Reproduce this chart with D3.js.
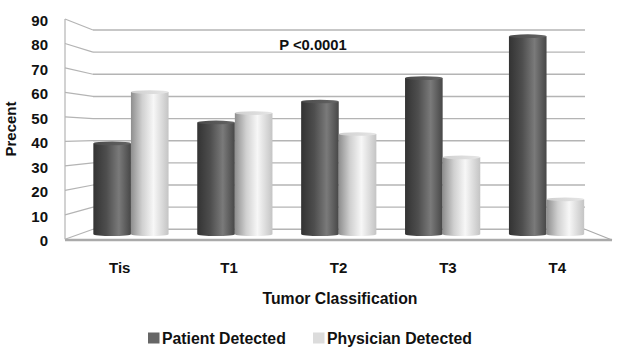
<!DOCTYPE html>
<html>
<head>
<meta charset="utf-8">
<script src="https://cdn.jsdelivr.net/npm/d3@7"></script>
<style>
body { margin: 0; background: #fff; }
text { font-family: Arial, "Liberation Sans", sans-serif; font-weight: bold; fill: #111; }
</style>
</head>
<body>
<div id="chart"></div>
<script>
var categories = ["Tis", "T1", "T2", "T3", "T4"];
var series = ["Patient Detected", "Physician Detected"];
var patientDetected = [39, 48, 57, 67, 85];
var physicianDetected = [61, 52, 43, 33, 15];
var yTicks = [0, 10, 20, 30, 40, 50, 60, 70, 80, 90];

var width = 620, height = 353;

var svg = d3.select("#chart").append("svg")
	.attr("width", width)
	.attr("height", height);

// depth t: 0 = back wall, 1 = front edge
function xScale(t) {
	return d3.scaleBand()
		.domain(categories)
		.range([93 - 28 * t, 585 + 27 * t]);
}
function yScale(t) {
	return d3.scaleLinear()
		.domain([0, 90])
		.range([229.3 + 10 * t, 30 - 11 * t]);
}

var yBack = yScale(0), yFront = yScale(1), yMid = yScale(0.5);
var xBack = xScale(0), xFront = xScale(1);

// gradients
var defs = svg.append("defs");
function grad(id, stops) {
	var g = defs.append("linearGradient").attr("id", id)
		.attr("x1", "0%").attr("x2", "100%").attr("y1", "0%").attr("y2", "0%");
	stops.forEach(function(s) {
		g.append("stop").attr("offset", s[0]).attr("stop-color", s[1]);
	});
}
grad("gDark", [["0%", "#333"], ["35%", "#4e4e4e"], ["68%", "#7a7a7a"], ["100%", "#474747"]]);
grad("gLight", [["0%", "#8e8e8e"], ["30%", "#d0d0d0"], ["60%", "#f7f7f7"], ["100%", "#c4c4c4"]]);
grad("gDarkTop", [["0%", "#4a4a4a"], ["100%", "#666"]]);
grad("gLightTop", [["0%", "#cfcfcf"], ["100%", "#e6e6e6"]]);

var gridColor = "#b4b4b4";

// back wall gridlines
svg.append("g").selectAll("line")
	.data(yTicks)
	.enter().append("line")
		.attr("x1", xBack.range()[0])
		.attr("x2", xBack.range()[1])
		.attr("y1", function(d) { return yBack(d); })
		.attr("y2", function(d) { return yBack(d); })
		.attr("stroke", gridColor)
		.attr("stroke-width", 1.4);

// left wall lines
svg.append("g").selectAll("line")
	.data(yTicks)
	.enter().append("line")
		.attr("x1", xFront.range()[0])
		.attr("x2", xBack.range()[0])
		.attr("y1", function(d) { return yFront(d); })
		.attr("y2", function(d) { return yBack(d); })
		.attr("stroke", gridColor)
		.attr("stroke-width", 1.2);

// left front vertical edge
svg.append("line")
	.attr("x1", xFront.range()[0]).attr("x2", xFront.range()[0])
	.attr("y1", yFront(90)).attr("y2", yFront(0))
	.attr("stroke", gridColor).attr("stroke-width", 1.2);

// floor: front edge and right edge
svg.append("line")
	.attr("x1", xFront.range()[0]).attr("x2", xFront.range()[1])
	.attr("y1", yFront(0) + 0.7).attr("y2", yFront(0) + 0.7)
	.attr("stroke", "#aaa").attr("stroke-width", 2.4);
svg.append("line")
	.attr("x1", xBack.range()[1]).attr("x2", xFront.range()[1])
	.attr("y1", yBack(0)).attr("y2", yFront(0) + 0.7)
	.attr("stroke", "#aaa").attr("stroke-width", 1.2);

// bars as cylinders at mid depth
var xMid = xScale(0.5).paddingInner(0.276).paddingOuter(0.138);
var xSeries = d3.scaleBand().domain(series).range([0, xMid.bandwidth()]);
var ry = 1.8;

var barData = [];
categories.forEach(function(c, i) {
	barData.push({ cat: c, s: series[0], v: patientDetected[i], fill: "url(#gDark)", top: "url(#gDarkTop)" });
	barData.push({ cat: c, s: series[1], v: physicianDetected[i], fill: "url(#gLight)", top: "url(#gLightTop)" });
});

var bars = svg.append("g").selectAll("g")
	.data(barData)
	.enter().append("g");

bars.append("path")
	.attr("fill", function(d) { return d.fill; })
	.attr("d", function(d) {
		var x0 = xMid(d.cat) + xSeries(d.s);
		var w = xSeries.bandwidth();
		var yt = yMid(d.v), yb = yMid(0);
		var rx = w / 2;
		return "M" + x0 + "," + yt + "L" + x0 + "," + yb +
			"A" + rx + "," + ry + " 0 0 0 " + (x0 + w) + "," + yb +
			"L" + (x0 + w) + "," + yt + "Z";
	});

bars.append("ellipse")
	.attr("fill", function(d) { return d.top; })
	.attr("cx", function(d) { return xMid(d.cat) + xSeries(d.s) + xSeries.bandwidth() / 2; })
	.attr("cy", function(d) { return yMid(d.v); })
	.attr("rx", xSeries.bandwidth() / 2)
	.attr("ry", ry);

// y tick labels
svg.append("g").selectAll("text")
	.data(yTicks)
	.enter().append("text")
		.attr("x", 48)
		.attr("y", function(d) { return yFront(d) + 1.5; })
		.attr("dy", "0.35em")
		.attr("text-anchor", "end")
		.style("font-size", "15px")
		.text(function(d) { return d; });

// category labels
svg.append("g").selectAll("text")
	.data(categories)
	.enter().append("text")
		.attr("x", function(d) { return xFront(d) + xFront.bandwidth() / 2; })
		.attr("y", 268)
		.attr("dy", "0.35em")
		.attr("text-anchor", "middle")
		.style("font-size", "15px")
		.text(function(d) { return d; });

// axis titles
svg.append("text")
	.attr("x", 340).attr("y", 298).attr("dy", "0.35em")
	.attr("text-anchor", "middle")
	.style("font-size", "15.8px")
	.text("Tumor Classification");

svg.append("text")
	.attr("transform", "translate(11,129) rotate(-90)")
	.attr("dy", "0.35em")
	.attr("text-anchor", "middle")
	.style("font-size", "15px")
	.text("Precent");

svg.append("text")
	.attr("x", 313).attr("y", 45).attr("dy", "0.35em")
	.attr("text-anchor", "middle")
	.style("font-size", "14.8px")
	.text("P <0.0001");

// legend
var legendColors = ["#666", "#dcdcdc"];
var legendX = [148, 313];
var gLegend = svg.append("g").selectAll("g")
	.data(series)
	.enter().append("g")
		.attr("transform", function(d, i) { return "translate(" + legendX[i] + ",338)"; });

gLegend.append("rect")
	.attr("x", 0).attr("y", -5.5)
	.attr("width", 11.5).attr("height", 11)
	.attr("fill", function(d, i) { return legendColors[i]; });

gLegend.append("text")
	.attr("x", 14)
	.attr("dy", "0.35em")
	.style("font-size", "15.8px")
	.text(function(d) { return d; });
</script>
</body>
</html>
